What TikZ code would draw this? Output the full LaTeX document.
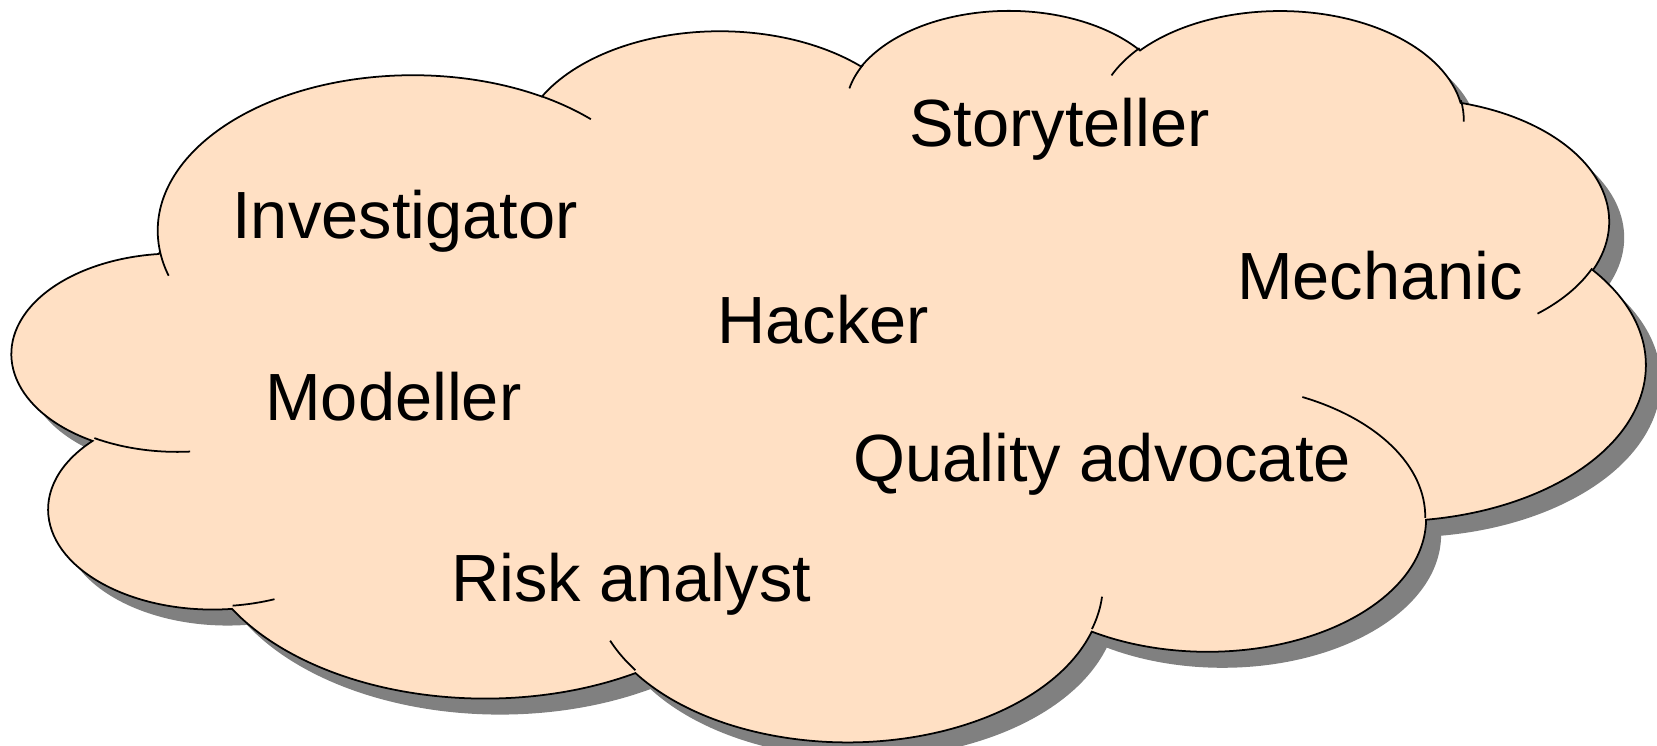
\documentclass[tikz,border=0pt]{standalone}
\usepackage{fontspec}
\setmainfont{Liberation Sans}
\usetikzlibrary{shadows}

\definecolor{peach}{RGB}{255,224,196}
\definecolor{shadowgray}{RGB}{128,128,128}

% one puff of the cloud: x radius, y radius, start angle, sweep
\newcommand{\puff}[4]{arc[x radius=#1, y radius=#2,
  start angle={atan2(#1*sin(#3),#2*cos(#3))},
  delta angle={mod(atan2(#1*sin(#3+#4),#2*cos(#3+#4))-atan2(#1*sin(#3),#2*cos(#3))+720,360)}]}

\begin{document}
\begin{tikzpicture}[x=0.02cm,y=-0.02cm]
        \tikzset{bubble/.style = {draw,fill=peach,line width=1pt,
            drop shadow={shadow xshift=0.3cm,shadow yshift=-0.32cm,opacity=1,fill=shadowgray}}}
        \tikzset{tick/.style = {draw,line width=1pt}}
        \tikzset{role/.style = {anchor=base,font=\fontsize{38}{44}\selectfont}}
        \useasboundingbox (0,0) rectangle (1657,746);
        % cloud
        \begin{scope}[shift={(12.7,8.5)},x=0.075588cm,y=-0.033866cm]
        \path[bubble] (39.00,143.70) \puff{67.53}{91.90}{-190.4875}{123.7805}
            \puff{53.33}{72.67}{-144.1024}{89.9452} \puff{43.65}{59.45}{-145.8079}{99.7230}
            \puff{48.57}{65.95}{-130.9861}{117.2417} \puff{53.33}{72.73}{-78.7089}{109.0269}
            \puff{67.75}{92.20}{-46.2673}{130.2690} \puff{57.85}{78.67}{0.6250}{114.0333}
            \puff{67.52}{92.15}{22.4516}{115.1726} \puff{77.20}{105.43}{66.2426}{75.7110}
            \puff{43.60}{59.18}{-274.9421}{146.7356} \puff{43.45}{59.45}{-246.8285}{152.5189} -- cycle;
        % inner ends of the puffs
        \path[tick] (46.93,261.77) \puff{43.45}{59.45}{86.7420}{26.4295}
            (69.28,348.99) \puff{43.60}{59.18}{73.6105}{11.4475}
            (164.78,390.90) \puff{67.52}{92.15}{137.6242}{14.0811}
            (288.27,347.51) \puff{67.52}{92.15}{6.4533}{15.9984}
            (341.29,229.54) \puff{57.85}{78.67}{-70.2924}{70.9174}
            (417.98,153.54) \puff{53.33}{72.73}{30.3180}{27.7515}
            (383.24,54.26) \puff{48.57}{65.95}{-13.7443}{14.8589}
            (290.78,39.52) \puff{48.57}{65.95}{-149.1815}{18.1954}
            (221.41,47.20) \puff{43.65}{59.45}{-163.4943}{17.6864}
            (140.00,51.92) \puff{67.53}{91.90}{-66.7070}{12.3194}
            (41.27,157.89) \puff{67.53}{91.90}{157.6544}{11.8582};
        \end{scope}
        % roles
        \node[role] (storyteller) at (1059.7,146.5) {Storyteller};
        \node[role] (investigator) at (405,238.3) {Investigator};
        \node[role] (mechanic) at (1380,300) {Mechanic};
        \node[role] (hacker) at (823.3,343.3) {Hacker};
        \node[role] (modeller) at (393.3,420) {Modeller};
        \node[role] (quality) at (1102.2,481) {Quality advocate};
        \node[role] (risk) at (631.2,601) {Risk analyst};
\end{tikzpicture}
\end{document}
